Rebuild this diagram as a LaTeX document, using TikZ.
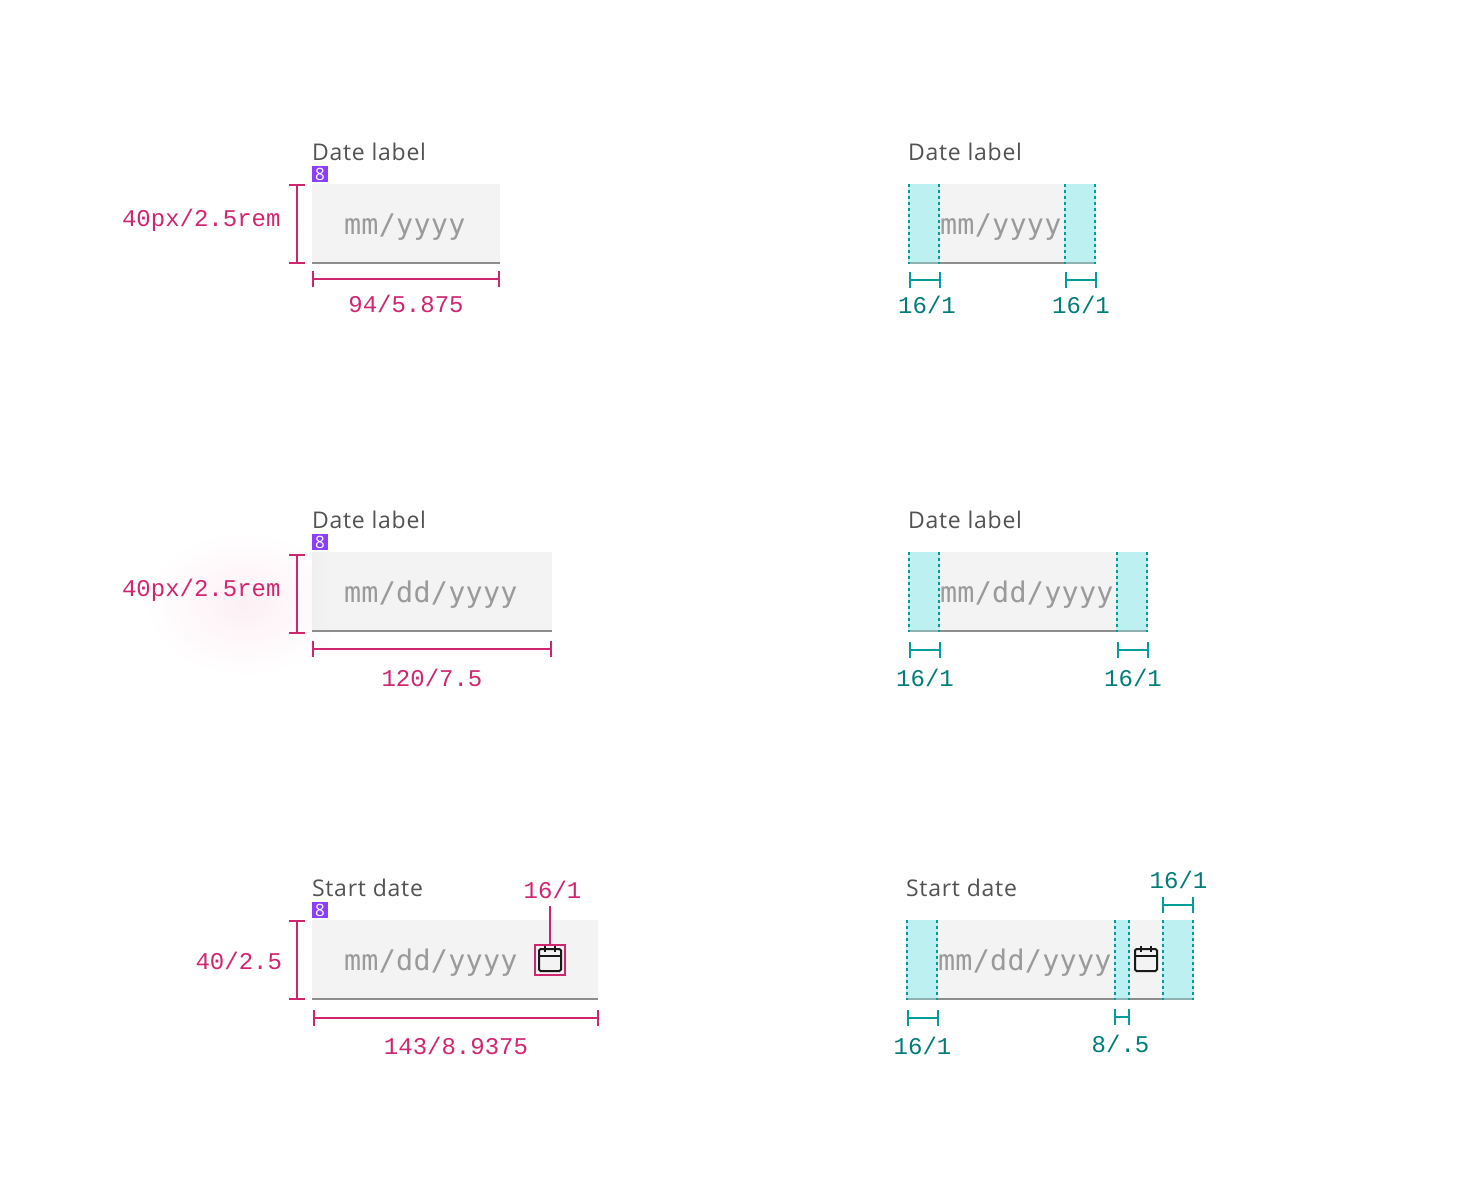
\documentclass[tikz,border=0pt]{standalone}
\usepackage{fontspec}
\usetikzlibrary{arrows.meta}
\newfontfamily\lblfont[LetterSpace=3.3]{Open Sans}
\newfontfamily\badgefont{Open Sans}
\newfontfamily\dimfont{Liberation Mono}
\newfontfamily\phfont[LetterSpace=1]{DejaVu Sans Mono}
\definecolor{cpink}{HTML}{D02670}
\definecolor{cteal}{HTML}{009D9A}
\definecolor{ctealtext}{HTML}{007D79}
\definecolor{ccyan}{HTML}{BDF0F0}
\definecolor{cbox}{HTML}{F3F3F3}
\definecolor{cline}{HTML}{8D8D8D}
\definecolor{clinecyan}{HTML}{8FB0B0}
\definecolor{clabel}{HTML}{525252}
\definecolor{cph}{HTML}{9A9A9A}
\definecolor{cpurple}{HTML}{8A3FFC}
\definecolor{cglow}{HTML}{FDF0F4}
\tikzset{
  x=1pt,y=-1pt,
  every node/.style={inner sep=0pt,outer sep=0pt},
  lbl/.style={anchor=base west,text=clabel,font=\lblfont\fontsize{23}{23}\selectfont},
  ph/.style={anchor=base west,text=cph,font=\phfont\fontsize{28.4}{28.4}\selectfont},
  dimp/.style={anchor=base,text=cpink,font=\dimfont\fontsize{24}{24}\selectfont},
  dimt/.style={anchor=base,text=ctealtext,font=\dimfont\fontsize{24}{24}\selectfont},
  fieldbox/.style={anchor=north west,fill=cbox,minimum height=80pt},
  badge/.style={anchor=north west,fill=cpurple,text=white,minimum width=16pt,minimum height=16pt,font=\badgefont\fontsize{17}{17}\selectfont},
  pad/.style={anchor=north west,fill=ccyan,minimum height=80pt},
  barp/.style={draw=cpink,line width=2pt,{Bar[width=16pt]}-{Bar[width=16pt]}},
  bart/.style={draw=cteal,line width=2pt,{Bar[width=16pt]}-{Bar[width=16pt]}},
  dashline/.style={draw=cteal,line width=2pt,dash pattern=on 3.4pt off 2.6pt},
  uline/.style={draw=cline,line width=2pt},
  ulinec/.style={draw=clinecyan,line width=2pt},
  calicon/.pic={
    \draw[black!90,line width=2pt,rounded corners=1.5pt] (0,0) rectangle (22,22);
    \draw[black!90,line width=1.5pt] (0,7) -- (22,7) (6,-3) -- (6,3) (16,-3) -- (16,3);
  }
}
\begin{document}
\begin{tikzpicture}
\useasboundingbox (0,0) rectangle (1472,1200);
\fill[white] (0,0) rectangle (1472,1200);
% glow
\shade[inner color=cglow,outer color=white] (245,604) ellipse [x radius=100,y radius=72];

% ---- Left column, row 1
\node[lbl] (l1) at (312,160) {Date label};
\node[badge] (b1) at (312,166) {8};
\node[fieldbox,minimum width=188pt] (f1) at (312,184) {};
\draw[uline] (312,263) -- (500,263);
\node[ph] (p1) at (344,234) {mm/yyyy};
\coordinate (v1a) at (297,184); \coordinate (v1b) at (297,264);
\draw[barp] (v1a) -- (v1b);
\coordinate (h1a) at (312,279); \coordinate (h1b) at (500,279);
\draw[barp] (h1a) -- (h1b);
\node[dimp,anchor=base east] (t1a) at (280.5,226) {40px/2.5rem};
\node[dimp] (t1b) at (406,312) {94/5.875};

% ---- Left column, row 2
\node[lbl] (l2) at (312,528) {Date label};
\node[badge] (b2) at (312,534) {8};
\node[fieldbox,minimum width=240pt] (f2) at (312,552) {};
\shade[left color=black!6,right color=cbox] (312,552) rectangle (332,630);
\draw[uline] (312,631) -- (552,631);
\node[ph] (p2) at (344,602) {mm/dd/yyyy};
\coordinate (v2a) at (297,554); \coordinate (v2b) at (297,634);
\draw[barp] (v2a) -- (v2b);
\coordinate (h2a) at (312,649); \coordinate (h2b) at (552,649);
\draw[barp] (h2a) -- (h2b);
\node[dimp,anchor=base east] (t2a) at (280.5,596) {40px/2.5rem};
\node[dimp] (t2b) at (432,686) {120/7.5};

% ---- Left column, row 3
\node[lbl] (l3) at (312,896) {Start date};
\node[badge] (b3) at (312,902) {8};
\node[fieldbox,minimum width=286pt] (f3) at (312,920) {};
\draw[uline] (312,999) -- (598,999);
\node[ph] (p3) at (344,970) {mm/dd/yyyy};
\coordinate (v3a) at (297,920); \coordinate (v3b) at (297,1000);
\draw[barp] (v3a) -- (v3b);
\coordinate (h3a) at (313,1018); \coordinate (h3b) at (599,1018);
\draw[barp] (h3a) -- (h3b);
\node[dimp,anchor=base east] (t3a) at (282,969.5) {40/2.5};
\node[dimp] (t3b) at (456,1054) {143/8.9375};
\node[dimp] (t3c) at (552.5,898) {16/1};
\node[draw=cpink,line width=2pt,anchor=north west,minimum width=30pt,minimum height=30pt] (ic1) at (535,945) {};
\coordinate (c3) at (550,906);
\draw[draw=cpink,line width=2pt] (c3) -- (ic1.north);
\pic at (539,949) {calicon};

% ---- Right column, row 1
\node[lbl] (r1) at (908,160) {Date label};
\node[fieldbox,minimum width=188pt] (g1) at (908,184) {};
\draw[uline] (908,263) -- (1096,263);
\node[pad,minimum width=32pt] (g1a) at (908,184) {};
\node[pad,minimum width=32pt] (g1b) at (1064,184) {};
\draw[ulinec] (908,263) -- (940,263) (1064,263) -- (1096,263);
\node[ph] (q1) at (940,234) {mm/yyyy};
\draw[dashline] (909,184) -- (909,264) (939,184) -- (939,264) (1065,184) -- (1065,264) (1095,184) -- (1095,264);
\coordinate (d1a) at (909,280); \coordinate (d1b) at (941,280);
\coordinate (d1c) at (1065,280); \coordinate (d1d) at (1097,280);
\draw[bart] (d1a) -- (d1b);
\draw[bart] (d1c) -- (d1d);
\node[dimt] (u1a) at (927,313) {16/1};
\node[dimt] (u1b) at (1081,313) {16/1};

% ---- Right column, row 2
\node[lbl] (r2) at (908,528) {Date label};
\node[fieldbox,minimum width=240pt] (g2) at (908,552) {};
\draw[uline] (908,631) -- (1148,631);
\node[pad,minimum width=32pt] (g2a) at (908,552) {};
\node[pad,minimum width=32pt] (g2b) at (1116,552) {};
\draw[ulinec] (908,631) -- (940,631) (1116,631) -- (1148,631);
\node[ph] (q2) at (940,602) {mm/dd/yyyy};
\draw[dashline] (909,552) -- (909,632) (939,552) -- (939,632) (1117,552) -- (1117,632) (1147,552) -- (1147,632);
\coordinate (d2a) at (909,650); \coordinate (d2b) at (941,650);
\coordinate (d2c) at (1117,650); \coordinate (d2d) at (1149,650);
\draw[bart] (d2a) -- (d2b);
\draw[bart] (d2c) -- (d2d);
\node[dimt] (u2a) at (925,686) {16/1};
\node[dimt] (u2b) at (1133,686) {16/1};

% ---- Right column, row 3
\node[lbl] (r3) at (906,896) {Start date};
\node[fieldbox,minimum width=288pt] (g3) at (906,920) {};
\draw[uline] (906,999) -- (1194,999);
\node[pad,minimum width=32pt] (g3a) at (906,920) {};
\node[pad,minimum width=16pt] (g3b) at (1114,920) {};
\node[pad,minimum width=32pt] (g3c) at (1162,920) {};
\draw[ulinec] (906,999) -- (938,999) (1114,999) -- (1130,999) (1162,999) -- (1194,999);
\node[ph] (q3) at (938,970) {mm/dd/yyyy};
\draw[dashline] (907,920) -- (907,1000) (937,920) -- (937,1000) (1115,920) -- (1115,1000) (1129,920) -- (1129,1000) (1163,920) -- (1163,1000) (1193,920) -- (1193,1000);
\pic at (1135,949) {calicon};
\coordinate (d3a) at (1162,905); \coordinate (d3b) at (1194,905);
\coordinate (d3c) at (907,1018); \coordinate (d3d) at (939,1018);
\coordinate (d3e) at (1114,1017); \coordinate (d3f) at (1130,1017);
\draw[bart] (d3a) -- (d3b);
\draw[bart] (d3c) -- (d3d);
\draw[bart] (d3e) -- (d3f);
\node[dimt] (u3a) at (1178.5,888) {16/1};
\node[dimt] (u3b) at (922.5,1054) {16/1};
\node[dimt] (u3c) at (1120.5,1052) {8/.5};
\end{tikzpicture}
\end{document}
